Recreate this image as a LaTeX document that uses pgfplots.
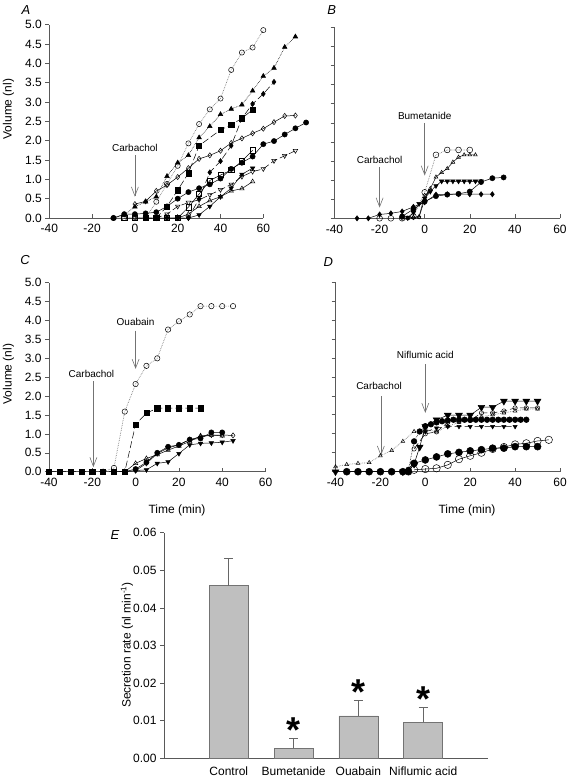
\documentclass[border=0pt]{standalone}
\usepackage{fontspec}
\setmainfont{Liberation Sans}
\usepackage{pgfplots}
\pgfplotsset{compat=1.18}
\usetikzlibrary{arrows.meta}
\begin{document}
\begin{tikzpicture}
\useasboundingbox (0pt,0pt) rectangle (567pt,-782pt);
\pgfplotsset{
  panel/.style={scale only axis, anchor=south west, clip=false,
    xmin=-40,xmax=60,ymin=0,ymax=5,
    axis x line*=bottom, axis y line*=left,
    axis line style={black!65, line width=0.7pt},
    every tick/.style={black!65, line width=0.6pt},
    major tick length=4pt,
    xtick align=inside, ytick align=outside,
    xtick={-40,-20,0,20,40,60}, xticklabels={-40,-20,0,20,40,60},
    ytick={0,0.5,1,1.5,2,2.5,3,3.5,4,4.5,5},
    tick label style={font=\fontsize{12}{14}\selectfont},
    xticklabel style={yshift=-3pt},
  },
  ylab/.style={yticklabels={0.0,0.5,1.0,1.5,2.0,2.5,3.0,3.5,4.0,4.5,5.0}},
  nolab/.style={yticklabels={}},
  sol/.style={black, line width=0.5pt},
  dott/.style={black!50, densely dotted, line width=0.7pt},
  dsh/.style={black, dash pattern=on 7pt off 3pt, line width=0.5pt},
  oc/.style={mark=o, mark options={solid, fill=white, draw=black, line width=0.5pt}},
  fc/.style={mark=*, mark options={solid, fill=black, draw=black}},
  ot/.style={mark=triangle, mark options={solid, fill=white, draw=black, line width=0.5pt}},
  ft/.style={mark=triangle*, mark options={solid, fill=black, draw=black}},
  od/.style={mark=triangle, mark options={solid, fill=white, draw=black, rotate=180, line width=0.5pt}},
  fd/.style={mark=triangle*, mark options={solid, fill=black, draw=black, rotate=180}},
  odi/.style={mark=diamond, mark options={solid, fill=white, draw=black, line width=0.5pt}},
  fdi/.style={mark=diamond*, mark options={solid, fill=black, draw=black}},
  osq/.style={mark=square, mark options={solid, fill=white, draw=black, line width=0.5pt}},
  fsq/.style={mark=square*, mark options={solid, fill=black, draw=black}},
}
\tikzset{arr/.style={black!55, line width=0.6pt, -{Straight Barb[length=9pt,width=7pt]}},
  ann/.style={font=\fontsize{10}{12}\selectfont, inner sep=0pt}}

% ---------------- A ----------------
\begin{axis}[panel, ylab, at={(49.3pt,-218pt)}, width=214pt, height=193.3pt, mark size=2.6pt]
\addplot[dott, oc] coordinates {(-10,0) (-5,0) (0,0) (5,0) (10,0.42) (15,0.88) (20,1.35) (25,1.93) (30,2.43) (35,2.81) (40,3.09) (45,3.83) (50,4.28) (55,4.41) (60,4.86)};
\addplot[black, densely dotted, line width=0.6pt, ft] coordinates {(-10,0) (-5,0.08) (0,0.29) (5,0.42) (10,0.55) (15,1.08) (20,1.43) (25,1.62) (30,2.08) (35,2.37) (40,2.68) (45,2.82) (50,2.93) (55,3.29) (60,3.67) (65,3.88) (70,4.42) (75,4.69)};
\addplot[sol, odi] coordinates {(0,0.36) (5,0.43) (10,0.70) (15,0.85) (20,1.06) (25,1.29) (30,1.53) (35,1.62) (40,1.74) (45,1.94) (50,2.06) (55,2.19) (60,2.31) (65,2.48) (70,2.64) (75,2.65)};
\addplot[sol, fc] coordinates {(-10,0) (-5,0.1) (0,0.1) (5,0.12) (10,0.15) (15,0.3) (20,0.5) (25,0.67) (30,0.77) (35,0.87) (40,1.02) (45,1.27) (50,1.43) (55,1.59) (60,1.91) (65,1.99) (70,2.16) (75,2.32) (80,2.47)};
\addplot[sol, osq] coordinates {(-5,0) (0,0) (5,0) (10,0) (15,0) (20,0) (25,0.28) (30,0.62) (35,0.97) (40,1.11) (45,1.24) (50,1.47) (55,1.75)};
\addplot[sol, fd] coordinates {(15,0) (20,0) (25,0) (30,0.08) (35,0.3) (40,0.55) (45,0.77) (50,1.13) (55,1.29)};
\addplot[dsh, od] coordinates {(0,0) (5,0) (10,0) (15,0.1) (20,0.3) (25,0.4) (30,0.47) (35,0.6) (40,0.73) (45,0.87) (50,1.07) (55,1.2) (60,1.27) (65,1.48) (70,1.61) (75,1.74)};
\addplot[sol, ot] coordinates {(15,0) (20,0) (25,0.1) (30,0.3) (35,0.45) (40,0.55) (45,0.7) (50,0.76) (55,0.94)};
\addplot[dsh, fsq] coordinates {(5,0) (10,0) (15,0.3) (20,0.72) (25,1.16) (30,1.87) (40,2.28) (45,2.41) (50,2.58) (55,2.8)};
\addplot[dsh, fdi] coordinates {(20,0) (25,0) (30,0.5) (35,1.18) (40,1.47) (45,1.87) (50,2.58) (55,2.95) (60,3.21) (65,3.52)};
\node[ann] at (axis cs:0,1.81) {Carbachol};
\draw[arr] (axis cs:0,1.62) -- (axis cs:0,0.55);
\end{axis}

% ---------------- B ----------------
\begin{axis}[panel, nolab, at={(334.5pt,-218.3pt)}, width=225.5pt, height=191pt, mark size=2.6pt]
\addplot[sol, fdi] coordinates {(-30,0) (-25,0) (-20,0.1) (-15,0.13) (-10,0.18) (-5,0.3) (0,0.42) (5,0.62) (10,0.63) (15,0.63) (20,0.63) (25,0.63) (30,0.63)};
\addplot[sol, fc] coordinates {(-10,0.05) (-5,0.24) (0,0.44) (5,0.58) (10,0.62) (15,0.64) (20,0.70) (25,0.95) (30,1.05) (35,1.07)};
\addplot[sol, fd] coordinates {(-7.5,0.02) (-5,0.15) (-2.5,0.38) (0,0.52) (2.5,0.7) (5,0.85) (7.5,0.97) (10,0.97) (12.5,0.97) (15,0.97) (17.5,0.97) (20,0.97) (22.5,0.97) (25,0.97)};
\addplot[sol, ot, mark size=2.2pt] coordinates {(-7.5,0) (-5,0.03) (-2.5,0.03) (0,0.5) (2.5,0.78) (5,1.08) (7.5,1.2) (10,1.3) (12.5,1.47) (15,1.6) (17.5,1.66) (20,1.66) (22.5,1.66)};
\addplot[sol, odi, mark size=2.2pt] coordinates {(-10,0) (-7.5,0) (-5,0.02) (-2.5,0.04) (0,0.6) (2.5,0.72)};
\addplot[dott, oc, mark size=2.9pt] coordinates {(-20,0) (-15,0) (-10,0) (-5,0.05) (0,0.68) (5,1.66) (10,1.79) (15,1.79) (20,1.79)};
\node[ann] at (axis cs:-20,1.53) {Carbachol};
\draw[arr] (axis cs:-20,1.34) -- (axis cs:-20,0.28);
\node[ann] at (axis cs:0,2.68) {Bumetanide};
\draw[arr] (axis cs:0,2.5) -- (axis cs:0,1.12);
\end{axis}

% ---------------- C ----------------
\begin{axis}[panel, ylab, at={(49pt,-471.7pt)}, width=216.5pt, height=189pt, mark size=2.6pt]
\addplot[dott, oc, mark size=2.7pt] coordinates {(-15,0) (-10,0.1) (-5,1.59) (0,2.32) (5,2.8) (10,3.0) (15,3.76) (20,3.98) (25,4.16) (30,4.38) (35,4.38) (40,4.38) (45,4.38)};
\addplot[dsh, fsq] coordinates {(-40,0) (-35,0) (-30,0) (-25,0) (-20,0) (-15,0) (-10,0) (-5,0) (0,1.25) (5,1.55) (10,1.68) (15,1.68) (20,1.68) (25,1.68) (30,1.68)};
\addplot[sol, odi] coordinates {(-10,0) (-5,0) (0,0.03) (5,0.22) (10,0.48) (15,0.63) (20,0.71) (25,0.85) (30,0.92) (35,0.97) (40,0.97) (45,0.96)};
\addplot[sol, ot] coordinates {(-5,0) (0,0.22) (5,0.35) (10,0.45) (15,0.57) (20,0.68) (25,0.8) (30,0.95) (35,0.97) (40,0.95)};
\addplot[sol, fc] coordinates {(-5,0) (0,0.07) (5,0.25) (10,0.5) (15,0.66) (20,0.71) (25,0.85) (30,0.88) (35,1.04) (40,1.04)};
\addplot[sol, fd] coordinates {(0,0.03) (5,0.05) (10,0.22) (15,0.26) (20,0.48) (25,0.71) (30,0.75) (35,0.76) (40,0.78) (45,0.82)};
\node[ann] at (axis cs:-20.4,2.58) {Carbachol};
\draw[arr] (axis cs:-19.5,2.39) -- (axis cs:-19.5,0.12);
\node[ann] at (axis cs:0,3.95) {Ouabain};
\draw[arr] (axis cs:0,3.73) -- (axis cs:0,2.72);
\end{axis}

% ---------------- D ----------------
\begin{axis}[panel, nolab, at={(335.5pt,-471.7pt)}, width=224.5pt, height=189.7pt, mark size=2.6pt]
\addplot[dott, ot, mark size=2.2pt] coordinates {(-40,0.13) (-35,0.19) (-30,0.22) (-25,0.24) (-20,0.42) (-15,0.56) (-10,0.8) (-5,1.06) (0,1.12) (5,1.05) (10,1.2) (15,1.3) (20,1.35) (25,1.45) (30,1.5) (35,1.55) (40,1.6) (45,1.65) (50,1.65)};
\addplot[dsh, oc, mark size=2.2pt] coordinates {(-5,0.6) (0,1.0) (5,1.05) (10,1.3) (15,1.32) (20,1.35) (25,1.55) (30,1.55) (35,1.6) (40,1.68) (45,1.68) (50,1.68)};
\addplot[black, densely dotted, line width=0.6pt, fc, mark size=2.8pt] coordinates {(-10,0) (-7.5,0.05) (-5,0.8) (-2.5,1.06) (0,1.2) (2.5,1.25) (5,1.3) (7.5,1.33) (10,1.35) (12.5,1.37) (15,1.37) (17.5,1.37) (20,1.37) (22.5,1.37) (25,1.37) (27.5,1.37) (30,1.37) (32.5,1.37) (35,1.37) (37.5,1.37) (40,1.37) (42.5,1.37) (45,1.37)};
\addplot[dsh, fd, mark size=2.4pt] coordinates {(0,1.05) (5,1.15) (10,1.19) (15,1.19) (20,1.19) (25,1.19) (30,1.19) (35,1.19) (40,1.19)};
\addplot[sol, fd, mark size=3.9pt] coordinates {(-40,0) (-10,0) (-5,0.2) (-2.5,0.65) (0,1.19) (5,1.37) (10,1.49) (15,1.49) (20,1.49) (25,1.7) (30,1.7) (35,1.86) (40,1.86) (45,1.86) (50,1.86)};
\addplot[sol, fc, mark size=3.5pt] coordinates {(-35,0) (-30,0) (-25,0) (-20,0) (-15,0) (-10,0) (-7.5,0) (-5,0.22) (0,0.31) (5,0.39) (10,0.47) (15,0.51) (20,0.55) (25,0.58) (30,0.62) (35,0.62) (40,0.66) (45,0.66) (50,0.66)};
\addplot[sol, oc, mark size=3.7pt] coordinates {(-5,0.05) (0,0.07) (5,0.09) (10,0.18) (15,0.33) (20,0.42) (25,0.5) (30,0.6) (35,0.65) (40,0.72) (45,0.75) (50,0.81) (55,0.84)};
\node[ann] at (axis cs:-20.6,2.25) {Carbachol};
\draw[arr] (axis cs:-19.8,1.99) -- (axis cs:-19.8,0.42);
\node[ann] at (axis cs:0,3.08) {Niflumic acid};
\draw[arr] (axis cs:0,2.83) -- (axis cs:0,1.55);
\end{axis}

% ---------------- E ----------------
\begin{axis}[scale only axis, anchor=south west, at={(164pt,-758.3pt)}, width=324pt, height=225.6pt,
  clip=false, xmin=0, xmax=5, ymin=0, ymax=0.06,
  scaled y ticks=false,
  axis x line*=bottom, axis y line*=left,
  axis line style={black!65, line width=0.7pt},
  every tick/.style={black!65, line width=0.6pt},
  major tick length=4pt, ytick align=outside,
  xtick={1,2,3,4}, xticklabels={Control,Bumetanide,Ouabain,Niflumic acid},
  xtick style={draw=none},
  xticklabel style={yshift=-5pt},
  ytick={0,0.01,0.02,0.03,0.04,0.05,0.06},
  yticklabels={0.00,0.01,0.02,0.03,0.04,0.05,0.06},
  tick label style={font=\fontsize{12}{14}\selectfont}]
\addplot[ybar, bar width=39pt, fill=black!25, draw=black!55, line width=0.6pt,
  error bars/.cd, y dir=plus, y explicit, error mark=|,
  error bar style={black!60, line width=0.7pt},
  error mark options={black!60, mark size=4.5pt, line width=0.7pt}]
  coordinates {(1,0.0459) +- (0,0.0073) (2,0.0027) +- (0,0.0026) (3,0.0113) +- (0,0.0040) (4,0.0096) +- (0,0.0040)};
\addplot[only marks, mark=none,
  nodes near coords={\fontsize{36}{36}\selectfont\bfseries *},
  every node near coord/.append style={anchor=base, yshift=-4pt, inner sep=0pt}]
  coordinates {(2,0.0053) (3,0.0153) (4,0.0136)};
\end{axis}

% ---------------- labels ----------------
\node[font=\fontsize{13}{15}\selectfont\itshape] at (26pt,-10pt) {A};
\node[font=\fontsize{13}{15}\selectfont\itshape] at (331.7pt,-10pt) {B};
\node[font=\fontsize{13}{15}\selectfont\itshape] at (25pt,-260pt) {C};
\node[font=\fontsize{13}{15}\selectfont\itshape] at (328.3pt,-262pt) {D};
\node[font=\fontsize{13}{15}\selectfont\itshape] at (115pt,-535pt) {E};
\node[rotate=90, font=\fontsize{12}{14}\selectfont] at (8.5pt,-109pt) {Volume (nl)};
\node[rotate=90, font=\fontsize{12}{14}\selectfont] at (8.5pt,-374pt) {Volume (nl)};
\node[font=\fontsize{12}{14}\selectfont] at (177pt,-510.7pt) {Time (min)};
\node[font=\fontsize{12}{14}\selectfont] at (467pt,-510.7pt) {Time (min)};
\node[rotate=90, font=\fontsize{12}{14}\selectfont] at (127pt,-645pt) {Secretion rate (nl min\textsuperscript{-1})};
\end{tikzpicture}
\end{document}
